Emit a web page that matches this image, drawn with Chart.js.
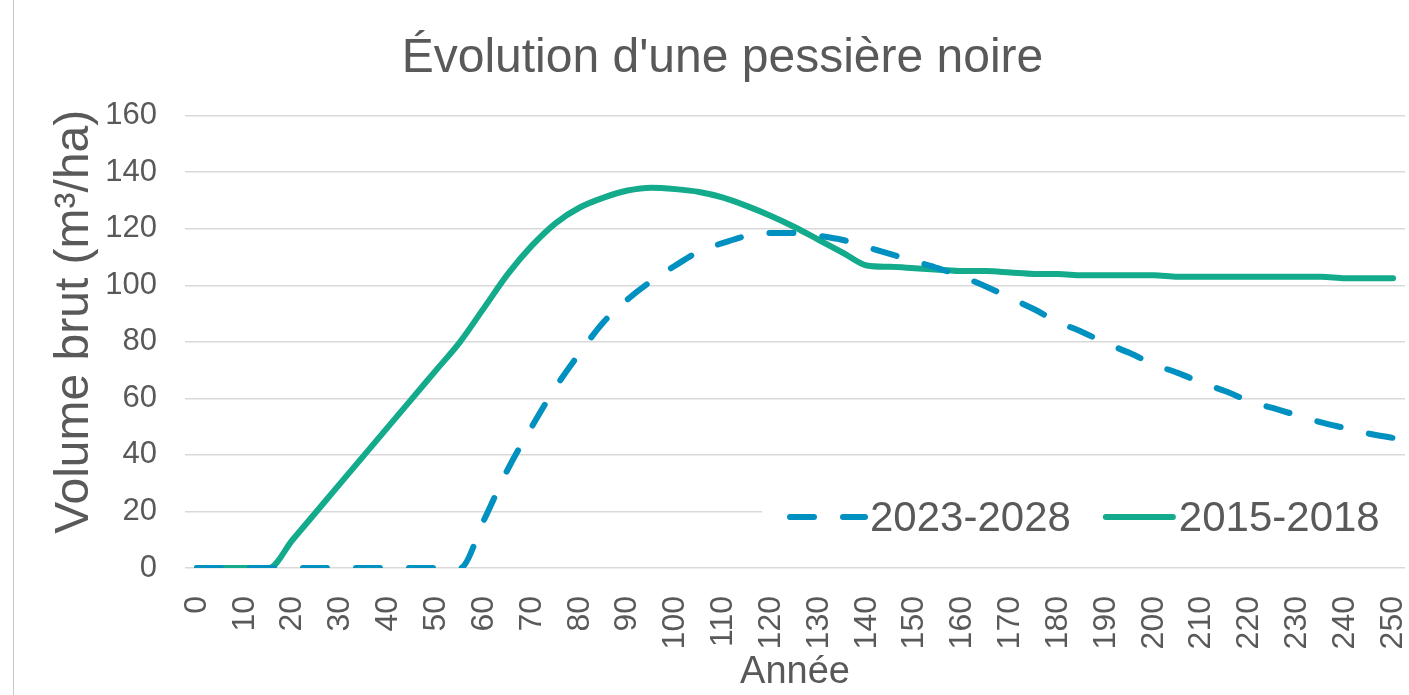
<!DOCTYPE html>
<html lang="fr">
<head>
<meta charset="utf-8">
<title>Évolution d'une pessière noire</title>
<script src="https://cdn.jsdelivr.net/npm/chart.js@4.4.1/dist/chart.umd.min.js"></script>
<style>
  html, body { margin: 0; padding: 0; background: #fff; }
  #cadre { position: relative; width: 1409px; height: 695px; }
  #cadre::before { content: ''; position: absolute; left: 13px; top: 0; bottom: 0; border-left: 1px solid #c8c8c8; }
</style>
</head>
<body>
<div id="cadre"><canvas id="graphique" width="1409" height="695"></canvas></div>
<script>
// Années (catégories de l'axe X, pas de 5 ans)
const annees = ['0', '5', '10', '15', '20', '25', '30', '35', '40', '45', '50', '55', '60', '65', '70', '75', '80', '85', '90', '95',
    '100', '105', '110', '115', '120', '125', '130', '135', '140', '145', '150', '155', '160', '165', '170', '175', '180', '185', '190', '195',
    '200', '205', '210', '215', '220', '225', '230', '235', '240', '245', '250'];

// Volume brut (m³/ha)
const volume2023 = [0, 0, 0, 0, 0, 0, 0, 0, 0, 0, 0, 0, 17, 35, 50, 64, 76, 87, 95, 101.5,
    107, 112, 115, 117.5, 118.5, 118.5, 117.5, 116, 113.5, 111, 108.5, 106, 103, 99.5, 95.5, 91.5, 87, 83.5, 79.5, 76,
    72, 69, 65.5, 62.5, 59, 56.5, 54, 51.5, 49.5, 47.5, 46];
const volume2015 = [0, 0, 0, 0, 10, 20, 30, 40, 50, 60, 70, 80, 92, 104, 114, 122, 127.5, 131, 133.5, 134.5,
    134, 133, 131, 128, 124.5, 120.5, 116, 111.5, 107, 106.5, 106, 105.5, 105, 105, 104.5, 104, 104, 103.5, 103.5, 103.5,
    103.5, 103, 103, 103, 103, 103, 103, 103, 102.5, 102.5, 102.5];

const seriesNoms = ['2023-2028', '2015-2018'];
const couleurs = ['#0091c0', '#13ab8b'];

const police = '"Liberation Sans", Arial, sans-serif';
const gris = '#595959';

// Légende dessinée à l'intérieur de la zone du graphique (en bas à droite)
const legendeInterne = {
    id: 'legendeInterne',
    afterDatasetsDraw(chart) {
        const { ctx, chartArea } = chart;
        const yc = chartArea.bottom - 51;
        ctx.save();
        ctx.fillStyle = '#ffffff';
        ctx.fillRect(chartArea.right - 643, yc - 26, 643, 52);
        ctx.font = '42px ' + police;
        ctx.textBaseline = 'middle';
        ctx.lineWidth = 6;
        ctx.lineCap = 'round';

        let x = chartArea.right - 615;
        // série pointillée
        ctx.strokeStyle = couleurs[0];
        ctx.setLineDash([24, 29]);
        ctx.beginPath();
        ctx.moveTo(x, yc);
        ctx.lineTo(x + 75, yc);
        ctx.stroke();
        ctx.setLineDash([]);
        x += 80;
        ctx.fillStyle = gris;
        ctx.fillText(seriesNoms[0], x, yc + 2);
        x += ctx.measureText(seriesNoms[0]).width + 32;

        // série continue
        ctx.strokeStyle = couleurs[1];
        ctx.beginPath();
        ctx.moveTo(x + 3, yc);
        ctx.lineTo(x + 70, yc);
        ctx.stroke();
        x += 76;
        ctx.fillText(seriesNoms[1], x, yc + 2);
        ctx.restore();
    }
};

const ctx = document.getElementById('graphique').getContext('2d');
new Chart(ctx, {
    type: 'line',
    data: {
        labels: annees,
        datasets: [
            {
                label: seriesNoms[0],
                data: volume2023,
                borderColor: couleurs[0],
                borderWidth: 6,
                borderDash: [24, 29],
                borderCapStyle: 'round',
                pointRadius: 0,
                cubicInterpolationMode: 'monotone',
                fill: false
            },
            {
                label: seriesNoms[1],
                data: volume2015,
                borderColor: couleurs[1],
                borderWidth: 6,
                borderCapStyle: 'round',
                pointRadius: 0,
                cubicInterpolationMode: 'monotone',
                fill: false
            }
        ]
    },
    options: {
        responsive: false,
        animation: false,
        layout: { padding: { left: 40, right: 4, top: 0, bottom: 0 } },
        plugins: {
            legend: { display: false },
            tooltip: { enabled: false },
            title: {
                display: true,
                text: "Évolution d'une pessière noire",
                color: gris,
                font: { family: police, size: 48, weight: 'normal' },
                padding: { top: 30, bottom: 28 }
            }
        },
        scales: {
            x: {
                offset: true,
                grid: { display: false },
                border: { display: false },
                ticks: {
                    autoSkip: false,
                    maxRotation: 90,
                    minRotation: 90,
                    padding: 20,
                    color: gris,
                    font: { family: police, size: 32 },
                    callback: (val, i) => (i % 2 === 0 ? annees[i] : '')
                },
                title: {
                    display: true,
                    text: 'Année',
                    color: gris,
                    font: { family: police, size: 38 },
                    padding: { top: 9, bottom: 0 }
                },
                // hauteur fixe de l'axe, sans marge ajoutée pour la dernière étiquette
                afterFit(scale) {
                    scale.height = 127;
                    scale.paddingLeft = 0;
                    scale.paddingRight = 0;
                }
            },
            y: {
                min: 0,
                max: 160,
                grid: { color: '#d9d9d9', lineWidth: 1.5, drawTicks: false },
                border: { display: false },
                ticks: {
                    stepSize: 20,
                    padding: 28,
                    color: gris,
                    font: { family: police, size: 31 }
                },
                title: {
                    display: true,
                    text: '   Volume brut (m³/ha)',
                    color: gris,
                    font: { family: police, size: 48 },
                    padding: { top: 6, bottom: 3 }
                },
                afterFit(scale) {
                    scale.width = 145;
                }
            }
        }
    },
    plugins: [legendeInterne]
});
</script>
</body>
</html>
